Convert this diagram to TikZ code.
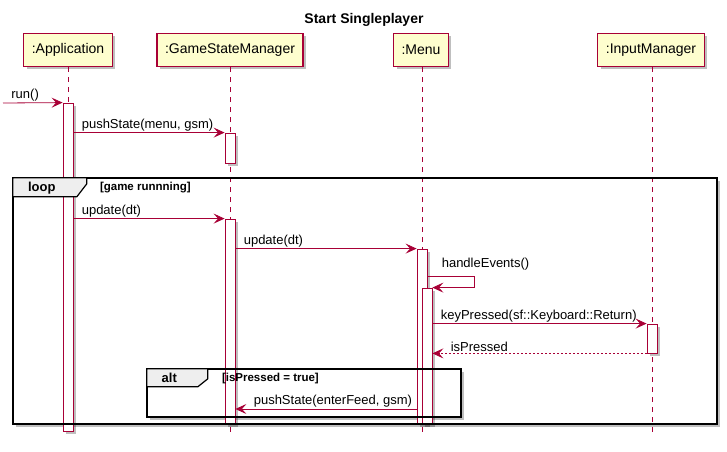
\documentclass[tikz,border=0pt]{standalone}
\usepackage{fontspec}
\setmainfont{Liberation Sans}
\usetikzlibrary{arrows.meta,fit,shadows,calc}
\definecolor{umlred}{HTML}{A80036}
\definecolor{umlyellow}{HTML}{FEFECE}
\definecolor{umltab}{HTML}{EEEEEE}
\begin{document}
\begin{tikzpicture}[x=1bp,y=-1bp,
    umlshadow/.style={drop shadow={shadow xshift=3bp,shadow yshift=-3bp,fill=black,opacity=.25}},
    part/.style={draw=umlred,fill=umlyellow,line width=1.1bp,minimum height=33bp,inner xsep=8bp,font=\fontsize{14bp}{16bp}\selectfont,umlshadow},
    life/.style={draw=umlred,dash pattern=on 5bp off 5bp,line width=.8bp},
    act/.style={draw=umlred,fill=white,line width=.8bp,inner sep=0pt,umlshadow},
    msg/.style={draw=umlred,line width=.8bp,-{Stealth[length=11bp,width=10bp,inset=4.5bp]}},
    ret/.style={msg,dash pattern=on 2bp off 2bp},
    lbl/.style={anchor=south west,inner sep=1bp,xshift=7bp,font=\fontsize{13bp}{15bp}\selectfont},
    retlbl/.style={anchor=south west,inner sep=1bp,xshift=17bp,font=\fontsize{13bp}{15bp}\selectfont},
    frameBox/.style={fill=white,inner sep=0pt,umlshadow},
    frameLine/.style={draw=black,line width=1.5bp},
    tab/.style={draw=black,line width=1.2bp,fill=umltab},
    tag/.style={font=\bfseries\fontsize{13bp}{15bp}\selectfont,inner sep=0pt},
    guard/.style={font=\bfseries\fontsize{11.5bp}{13bp}\selectfont,anchor=west,inner sep=0pt}]
    \useasboundingbox (0,0) rectangle (727,452);
    \node[font=\bfseries\fontsize{14bp}{16bp}\selectfont] (title) at (364,20) {Start Singleplayer};
    % participants
    \node[part] (app) at (68,50) {:Application};
    \node[part] (gsm) at (230,50) {:GameStateManager};
    \node[part] (menu) at (421,50) {:Menu};
    \node[part] (input) at (651,50) {:InputManager};
    % frames (background)
    \node[frameBox,fit={(13,178) (717,424)}] (loop) {};
    \node[frameBox,fit={(147,369) (461,417)}] (alt) {};
    % lifelines
    \coordinate (bottom) at (0,437);
    \draw[life] (app.south) -- (app.south |- bottom);
    \draw[life] (gsm.south) -- (gsm.south |- bottom);
    \draw[life] (menu.south) ++(1,0) coordinate (menuTop) -- (menuTop |- bottom);
    \draw[life] (input.south) ++(1,0) coordinate (inputTop) -- (inputTop |- bottom);
    % activations
    \node[act,fit={(63,103) (73,431)}] (appAct) {};
    \node[act,fit={(225,133) (235,163)}] (gsmAct1) {};
    \node[act,fit={(225,219) (235,424)}] (gsmAct2) {};
    \node[act,fit={(417,249) (427,424)}] (menuAct1) {};
    \node[act,fit={(422,288) (432,424)}] (menuAct2) {};
    \node[act,fit={(647,324) (657,353)}] (inAct) {};
    % frame borders and tabs
    \draw[frameLine] (loop.north west) rectangle (loop.south east);
    \draw[frameLine] (alt.north west) rectangle (alt.south east);
    \draw[tab] (loop.north west) -- ++(74,0) -- ++(0,6) -- ++(-10,13) -- ++(-64,0) -- cycle;
    \node[tag] (loopTag) at ($(loop.north west)+(29,10)$) {loop};
    \node[guard] (loopGuard) at ($(loop.north west)+(87,10)$) {[game runnning]};
    \draw[tab] (alt.north west) -- ++(61,0) -- ++(0,10) -- ++(-10,8) -- ++(-51,0) -- cycle;
    \node[tag] (altTag) at ($(alt.north west)+(22.5,9.5)$) {alt};
    \node[guard] (altGuard) at ($(alt.north west)+(75,9.5)$) {[isPressed = true]};
    % messages
    \coordinate (caller) at (3,103);
    \draw[msg] (caller) -- (appAct.north west) node[lbl,at start] {run()};
    %
    \draw[msg] (appAct.east |- gsmAct1.north) -- (gsmAct1.north west) node[lbl,at start] {pushState(menu, gsm)};
    %
    \draw[msg] (appAct.east |- gsmAct2.north) -- (gsmAct2.north west) node[lbl,at start] {update(dt)};
    %
    \draw[msg] (gsmAct2.east |- menuAct1.north) -- (menuAct1.north west) node[lbl,at start] {update(dt)};
    %
    \coordinate (handleY) at (0,276);
    \draw[msg] (menuAct1.east |- handleY) node[lbl,xshift=6bp,yshift=4bp] {handleEvents()} -- ++(47,0) |- (menuAct2.north east);
    %
    \draw[msg] (menuAct2.east |- inAct.north) -- (inAct.north west) node[lbl,at start] {keyPressed(sf::Keyboard::Return)};
    %
    \draw[ret] (inAct.south west) -- (menuAct2.east |- inAct.south) node[retlbl,at end] {isPressed};
    %
    \coordinate (feedY) at (0,409);
    \draw[msg] (menuAct1.west |- feedY) -- (gsmAct2.east |- feedY) node[retlbl,at end] {pushState(enterFeed, gsm)};
\end{tikzpicture}
\end{document}
